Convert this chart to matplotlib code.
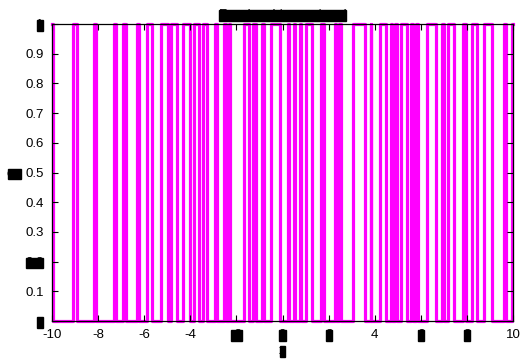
import matplotlib
matplotlib.use("Agg")
import matplotlib.pyplot as plt

# signal starts high at x = -10 and ends high at x = 10
x_min, x_max = -10, 10
# x where the signal drops 1 -> 0
fall = [-9.94, -8.92, -8.09, -7.245, -6.79, -6.23, -5.66, -4.97, -4.58, -4.01,
        -3.62, -3.28, -2.86, -2.47, -2.26, -1.47, -1.17, -0.82, -0.13, 0.30,
        0.54, 0.82, 1.26, 1.78, 2.34, 2.52, 3.56, 3.86, 4.47, 4.73,
        4.95, 5.38, 5.64, 5.86, 6.68, 6.99, 7.42, 7.98, 8.42, 9.11, 9.68]
# x where the signal rises 0 -> 1
rise = [-9.11, -8.18, -7.29, -6.94, -6.31, -5.90, -5.25, -4.84, -4.32, -3.82,
        -3.45, -2.95, -2.52, -2.30, -1.65, -1.26, -0.91, -0.52, 0.26, 0.48,
        0.76, 1.00, 1.69, 2.28, 2.47, 3.04, 3.82, 4.21, 4.69, 4.88,
        5.12, 5.58, 5.79, 6.25, 6.90, 7.20, 7.85, 8.24, 8.76, 9.63, 9.94]

yticks = [0, 0.1, 0.2, 0.3, 0.4, 0.5, 0.6, 0.7, 0.8, 0.9, 1]
ytick_labels = ["0", "0.1", "0.2", "0.3", "0.4", "0.5", "0.6", "0.7", "0.8", "0.9", "1"]
xticks = [-10, -8, -6, -4, -2, 0, 2, 4, 6, 8, 10]
xtick_labels = ["-10", "-8", "-6", "-4", "-2", "0", "2", "4", "6", "8", "10"]
# labels that are blacked out in the reference
hidden_y = {"0", "0.2", "1"}
hidden_x = {"-2", "0", "2", "6", "8"}

# build the square wave
xs, ys = [x_min], [1]
for f, r in zip(fall, rise):
    xs += [f, f, r, r]
    ys += [1, 0, 0, 1]
xs.append(x_max)
ys.append(1)

plt.rcParams['font.family'] = ['Liberation Sans', 'DejaVu Sans']
black_box = dict(facecolor='black', edgecolor='black', pad=-0.5)

fig = plt.figure(figsize=(5.25, 3.59), dpi=100)
ax = fig.add_axes([52 / 525, 1 - 321 / 359, 461 / 525, 297 / 359])

ax.plot(xs, ys, color='#ff00ff', lw=2.3, clip_on=False, zorder=1)

ax.set_xlim(x_min, x_max)
ax.set_ylim(0, 1)
ax.set_xticks(xticks)
ax.set_xticklabels(xtick_labels)
ax.set_yticks(yticks)
ax.set_yticklabels(ytick_labels)
ax.tick_params(direction='in', length=4, width=0.8, top=True, right=True,
               labelsize=9.5, pad=6)
for lab in ax.get_yticklabels():
    if lab.get_text() in hidden_y:
        lab.set_bbox(black_box)
for lab in ax.get_xticklabels():
    if lab.get_text() in hidden_x:
        lab.set_bbox(black_box)
for sp in ax.spines.values():
    sp.set_linewidth(0.9)
    sp.set_zorder(3)

ax.set_title("Random binary signal", fontsize=9.5, pad=4, bbox=black_box)
ax.set_xlabel("x", fontsize=9.5, bbox=black_box)
ax.xaxis.set_label_coords(0.5, -0.082)
ax.set_ylabel("on", fontsize=9.5, rotation=0, va='center', ha='center',
              bbox=black_box)
ax.yaxis.set_label_coords(-0.082, 0.495)

fig.savefig("out.png", dpi=100)
